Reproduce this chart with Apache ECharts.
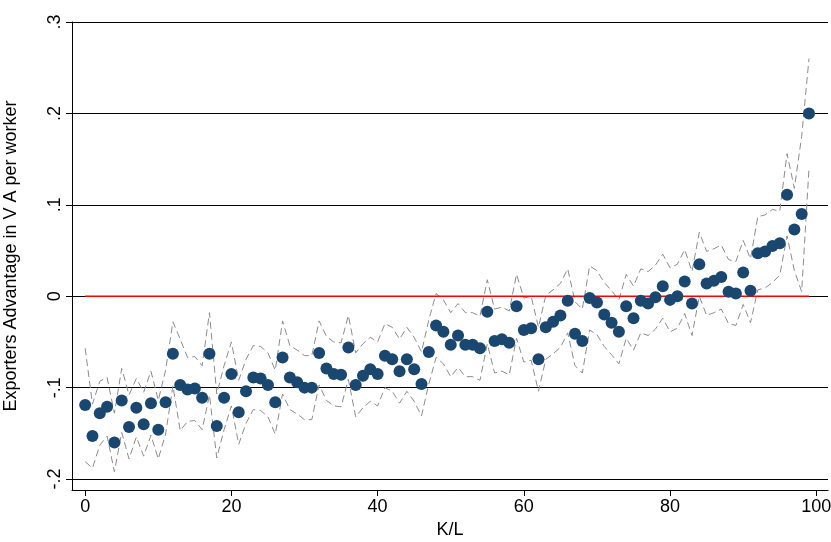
<!DOCTYPE html>
<html>
<head>
<meta charset="UTF-8">
<script src="https://cdn.jsdelivr.net/npm/echarts@6/dist/echarts.min.js"></script>
</head>
<body style="margin:0">
<div id="main" style="width:831px;height:542px"></div>
<script>
// point estimates, K/L percentile 0..99
var est = [-0.119,-0.153,-0.128,-0.121,-0.160,-0.114,-0.143,-0.122,-0.140,-0.117,
  -0.146,-0.116,-0.063,-0.097,-0.102,-0.101,-0.111,-0.063,-0.142,-0.111,
  -0.085,-0.127,-0.104,-0.089,-0.090,-0.097,-0.116,-0.067,-0.089,-0.094,
  -0.100,-0.100,-0.062,-0.079,-0.085,-0.086,-0.056,-0.097,-0.087,-0.080,
  -0.085,-0.065,-0.069,-0.082,-0.069,-0.080,-0.096,-0.061,-0.032,-0.039,
  -0.053,-0.043,-0.053,-0.053,-0.057,-0.017,-0.049,-0.047,-0.051,-0.011,
  -0.037,-0.035,-0.069,-0.034,-0.028,-0.021,-0.005,-0.041,-0.049,-0.002,
  -0.007,-0.020,-0.029,-0.039,-0.011,-0.024,-0.005,-0.008,-0.001,0.011,
  -0.004,0.000,0.016,-0.008,0.035,0.014,0.017,0.021,0.005,0.003,
  0.026,0.006,0.047,0.049,0.055,0.058,0.111,0.073,0.090,0.200];
// confidence band half-widths
var halfW = [0.062,0.035,0.035,0.032,0.032,0.035,0.035,0.032,0.035,0.035,
  0.032,0.035,0.035,0.05,0.035,0.035,0.035,0.045,0.035,0.035,
  0.035,0.035,0.035,0.035,0.035,0.035,0.035,0.04,0.035,0.035,
  0.035,0.035,0.035,0.035,0.035,0.035,0.035,0.035,0.035,0.035,
  0.035,0.035,0.035,0.035,0.035,0.035,0.035,0.035,0.035,0.035,
  0.035,0.035,0.035,0.035,0.035,0.035,0.035,0.035,0.035,0.035,
  0.035,0.035,0.035,0.035,0.035,0.035,0.035,0.035,0.035,0.035,
  0.035,0.035,0.035,0.035,0.035,0.035,0.035,0.035,0.035,0.035,
  0.035,0.035,0.035,0.035,0.035,0.035,0.035,0.035,0.035,0.035,
  0.035,0.035,0.04,0.04,0.04,0.035,0.045,0.045,0.085,0.06];
var yTicks = [-0.2, -0.1, 0, 0.1, 0.2, 0.3];
var yTickLabels = ['-.2', '-.1', '0', '.1', '.2', '.3'];
var xTicks = [0, 20, 40, 60, 80, 100];

var pts = [], lo = [], hi = [];
for (var i = 0; i < est.length; i++) {
  pts.push([i, est[i]]);
  lo.push([i, est[i] - halfW[i]]);
  hi.push([i, est[i] + halfW[i]]);
}
var band = {type: 'line', symbol: 'none', silent: true, z: 3,
  lineStyle: {color: '#8c8c8c', width: 1, type: [7, 4]}};

echarts.init(document.getElementById('main')).setOption({
  animation: false,
  grid: {left: 72, right: 3, top: 22, bottom: 52, outerBoundsMode: 'none', containLabel: false},
  xAxis: {
    type: 'value', min: -1.8, max: 101.6,
    name: 'K/L', nameLocation: 'middle', nameGap: 27,
    nameTextStyle: {fontSize: 18, color: '#000', fontFamily: 'Arial'},
    axisLine: {onZero: false, lineStyle: {color: '#000'}},
    axisTick: {length: 6, lineStyle: {color: '#000'}, customValues: xTicks},
    axisLabel: {fontSize: 18, color: '#000', fontFamily: 'Arial', customValues: xTicks},
    splitLine: {show: false}
  },
  yAxis: {
    type: 'value', min: -0.212, max: 0.3,
    name: 'Exporters Advantage in V A per worker', nameLocation: 'middle', nameGap: 52,
    nameTextStyle: {fontSize: 18, color: '#000', fontFamily: 'Arial'},
    axisLine: {show: true, onZero: false, lineStyle: {color: '#000'}},
    axisTick: {show: true, length: 6, lineStyle: {color: '#000'}, customValues: yTicks},
    axisLabel: {fontSize: 18, color: '#000', fontFamily: 'Arial', rotate: 90,
      customValues: yTicks,
      formatter: function (v) { return yTickLabels[yTicks.indexOf(Math.round(v * 10) / 10)]; }},
    splitLine: {show: false}
  },
  series: [
    {type: 'line', data: [], z: 1, markLine: {silent: true, z: 1, symbol: 'none', label: {show: false},
      lineStyle: {color: '#000', width: 1, type: 'solid'},
      data: yTicks.map(function (v) { return {yAxis: v}; })}},
    Object.assign({data: lo}, band),
    Object.assign({data: hi}, band),
    {type: 'line', symbol: 'none', z: 4, data: [[0, 0], [99, 0]], lineStyle: {color: '#ff0000', width: 1.5}},
    {type: 'scatter', z: 5, data: pts, symbolSize: 12, itemStyle: {color: '#1a476f', opacity: 1}}
  ]
});
</script>
</body>
</html>
